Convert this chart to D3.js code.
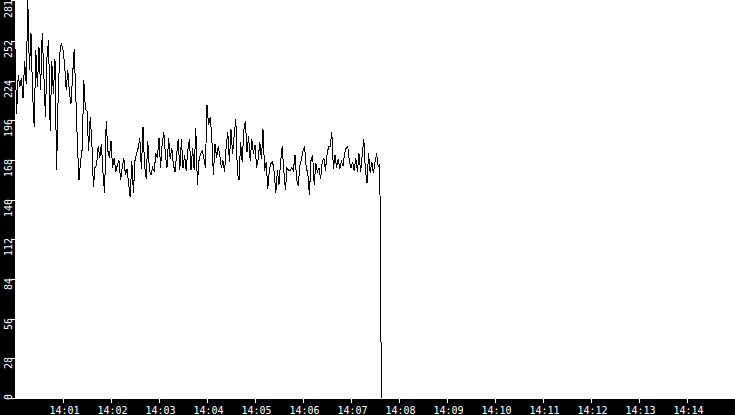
<!DOCTYPE html>
<html>
<head>
<meta charset="utf-8">
<script src="https://cdn.jsdelivr.net/npm/d3@7"></script>
<style>
  html, body { margin: 0; padding: 0; background: #fff; }
  svg { display: block; }
  text { -webkit-font-smoothing: none; font-smooth: never; text-rendering: optimizeSpeed; }
</style>
</head>
<body>
<svg id="chart" width="735" height="415"></svg>
<script>
// ---- data (one sample every 2 seconds from 14:00:00) ----
const startTime = "14:00:00";
const sampleStepSeconds = 2;
const values = [
  247,201,228,220,226,212,238,222,281,232,
  258,215,192,246,220,248,218,258,230,199,
  241,253,189,238,215,240,161,215,244,251,
  246,236,218,232,216,208,228,247,214,180,
  154,168,176,225,204,203,175,199,182,149,
  163,165,178,170,180,159,145,196,175,170,
  182,163,170,160,165,168,154,163,170,158,
  162,152,142,168,145,168,173,177,184,162,
  192,164,155,182,161,158,163,160,173,170,
  184,163,180,188,172,163,184,169,177,165,
  160,172,183,161,183,163,172,161,175,183,
  161,177,161,191,151,168,173,175,170,163,
  207,193,199,184,158,180,170,178,172,163,
  168,160,178,188,167,190,173,186,197,159,
  154,181,167,189,196,174,185,168,183,173,
  179,163,169,181,169,190,161,167,148,162,
  166,167,160,145,161,151,167,178,161,147,
  163,161,161,163,161,172,155,150,164,169,
  175,178,163,159,144,168,172,151,166,160,
  163,155,167,170,161,172,178,178,188,162,
  172,163,169,162,168,164,173,177,178,167,
  163,167,161,170,160,173,160,172,183,161,
  152,173,159,167,159,167,173,164,165,0
];
const yTickLabels = [0, 28, 56, 84, 112, 140, 168, 196, 224, 252, 281];
const xTickLabels = ["14:01","14:02","14:03","14:04","14:05","14:06","14:07",
                     "14:08","14:09","14:10","14:11","14:12","14:13","14:14"];
const xDomain = ["14:00", "14:15"];
const yMax = 281;

// ---- layout ----
const W = 735, H = 415;
const left = 15, bottom = 399;

const parseHM = s => { const p = s.split(":").map(Number); return new Date(Date.UTC(2024,0,1,p[0],p[1],p[2]||0)); };
const t0 = parseHM(startTime);
const data = values.map((v, i) => ({ t: new Date(t0.getTime() + i * sampleStepSeconds * 1000), v }));

const x = d3.scaleUtc().domain(xDomain.map(parseHM)).range([left, W]);
const y = d3.scaleLinear().domain([0, yMax]).range([bottom - 0.5, 0.5]);

const svg = d3.select("#chart");
svg.append("rect").attr("x",0).attr("y",0).attr("width",W).attr("height",H).attr("fill","#fff");

svg.append("defs").append("clipPath").attr("id","plotclip")
  .append("rect").attr("x",left).attr("y",0).attr("width",W-left).attr("height",bottom);

const line = d3.line().x(d => x(d.t)).y(d => y(d.v));
svg.append("path").datum(data)
  .attr("clip-path","url(#plotclip)")
  .attr("d", line)
  .attr("fill","none").attr("stroke","#000").attr("stroke-width",1)
  .attr("shape-rendering","crispEdges");

// axis strips
svg.append("rect").attr("x",0).attr("y",0).attr("width",left).attr("height",H).attr("fill","#000");
svg.append("rect").attr("x",0).attr("y",bottom).attr("width",W).attr("height",H-bottom).attr("fill","#000");

const font = "'DejaVu Sans Mono', monospace";
const fontSize = 10;

// y axis
const yAxisG = svg.append("g");
yTickLabels.forEach(v => {
  const py = Math.min(bottom - 1, Math.floor(y(v))) + 0.5;
  yAxisG.append("line").attr("x1", 11).attr("x2", left).attr("y1", py).attr("y2", py)
    .attr("stroke","#fff").attr("stroke-width",1).attr("shape-rendering","crispEdges");
  const t = yAxisG.append("text").text(v)
    .attr("font-family", font).attr("font-size", fontSize).attr("fill","#fff")
    .attr("text-anchor","end");
  const len = t.node().getComputedTextLength();
  let top = py - 1.5;
  top = Math.max(0, Math.min(bottom + 1 - len, top));
  t.attr("transform", `translate(12,${top}) rotate(-90)`);
});

// x axis
const xAxisG = svg.append("g");
xTickLabels.forEach(lbl => {
  const px = Math.round(x(parseHM(lbl))) + 0.5;
  xAxisG.append("line").attr("x1", px).attr("x2", px).attr("y1", bottom).attr("y2", bottom + 4)
    .attr("stroke","#fff").attr("stroke-width",1).attr("shape-rendering","crispEdges");
  xAxisG.append("text").text(lbl)
    .attr("x", px + 1).attr("y", 414)
    .attr("font-family", font).attr("font-size", fontSize).attr("fill","#fff")
    .attr("text-anchor","middle");
});
</script>
</body>
</html>
